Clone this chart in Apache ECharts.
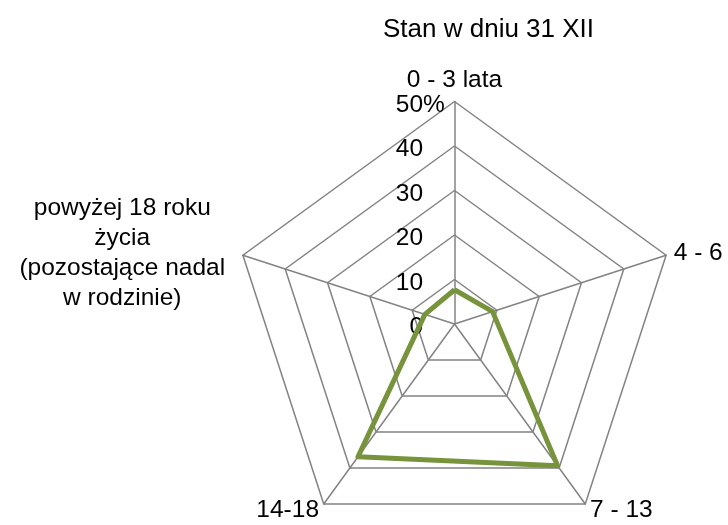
<!DOCTYPE html>
<html>
<head>
<meta charset="utf-8">
<script src="https://cdn.jsdelivr.net/npm/echarts@6/dist/echarts.min.js"></script>
<style>
  html, body { margin: 0; padding: 0; background: #fff; }
  #chart { width: 728px; height: 525px; }
</style>
</head>
<body>
<div id="chart"></div>
<script>
// kategorie w kolejnosci zgodnej z ruchem wskazowek zegara (od gory)
const categories = ['0 - 3 lata', '4 - 6', '7 - 13', '14-18', 'powyżej 18 roku\nżycia\n(pozostające nadal\nw rodzinie)']
const values = [7.7, 9.0, 39.4, 36.9, 7.0]
const ticks = [0, 10, 20, 30, 40, 50]
const title = 'Stan w dniu 31 XII'

const font = '"Liberation Sans", Arial, sans-serif'
const gridColor = '#838383'
const labelSize = 24.5

// ECharts radar idzie przeciwnie do wskazowek zegara, wiec odwracamy reszte
const order = [0, 4, 3, 2, 1]

const txt = { fontSize: labelSize, fontFamily: font, color: '#000' }

const indicator = order.map((i, k) => {
  const ind = { name: categories[i], min: 0, max: ticks[ticks.length - 1] }
  if (k === 0) {
    // etykiety osi tylko na pierwszej osi, "%" tylko przy 50
    ind.axisLabel = {
      show: true,
      margin: 9.7,
      padding: [7, 0, 0, 0],
      formatter: v => '{n|' + v + '}' + (v === 50 ? '{p|%}' : '{h|%}'),
      rich: {
        n: txt,
        p: txt,
        h: Object.assign({}, txt, { color: 'rgba(0,0,0,0)' })
      }
    }
  }
  return ind
})

const chart = echarts.init(document.getElementById('chart'))

chart.setOption({
  animation: false,
  title: {
    text: title,
    left: 383,
    top: 17,
    padding: 0,
    textStyle: { fontSize: 26, fontWeight: 'normal', color: '#000', fontFamily: font }
  },
  radar: {
    center: [454.5, 324],
    radius: 222.5,
    startAngle: 90,
    shape: 'polygon',
    splitNumber: 5,
    indicator: indicator,
    axisName: {
      color: '#000',
      fontSize: labelSize,
      fontFamily: font,
      formatter: name => {
        if (name.indexOf('\n') < 0) return name
        return name.split('\n').map(s => '{c|' + s + '}').join('\n')
      },
      rich: {
        c: { width: 226, align: 'center', fontSize: labelSize, lineHeight: 30, fontFamily: font, color: '#000' }
      }
    },
    nameGap: 8,
    axisLine: { lineStyle: { color: gridColor, width: 1.5 } },
    splitLine: { lineStyle: { color: gridColor, width: 1.5 } },
    splitArea: { show: false },
    axisTick: { show: false },
    axisLabel: { show: false }
  },
  series: [{
    type: 'radar',
    symbol: 'none',
    lineStyle: { color: '#77933C', width: 5 },
    data: [{ value: order.map(i => values[i]) }]
  }]
})
</script>
</body>
</html>
